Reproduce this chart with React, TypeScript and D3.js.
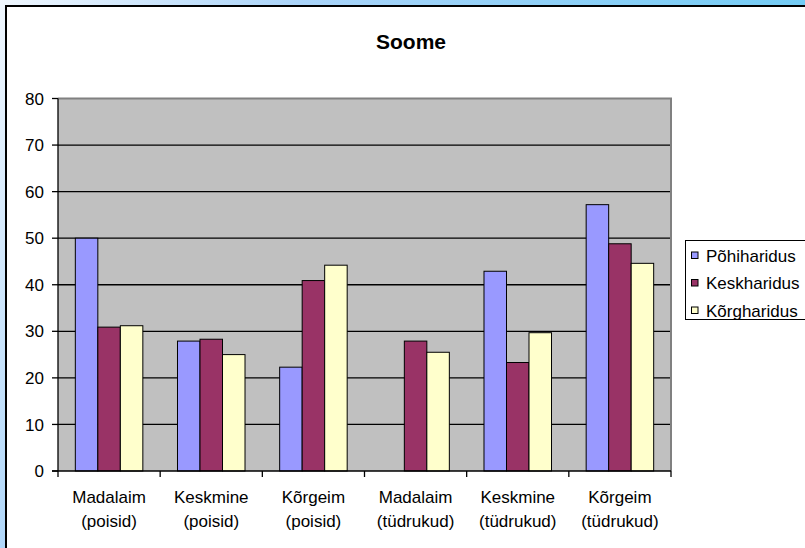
import * as d3 from 'd3';
import { useEffect } from 'react';

const categories = [
  ['Madalaim', '(poisid)'],
  ['Keskmine', '(poisid)'],
  ['Kõrgeim', '(poisid)'],
  ['Madalaim', '(tüdrukud)'],
  ['Keskmine', '(tüdrukud)'],
  ['Kõrgeim', '(tüdrukud)'],
];
const seriesNames = ['Põhiharidus', 'Keskharidus', 'Kõrgharidus'];
const pohiharidus = [50, 27.9, 22.3, 0, 42.9, 57.2];
const keskharidus = [30.9, 28.3, 40.9, 27.9, 23.3, 48.8];
const korgharidus = [31.2, 25.0, 44.2, 25.5, 29.7, 44.6];
const yTicks = [0, 10, 20, 30, 40, 50, 60, 70, 80];

const seriesValues = [pohiharidus, keskharidus, korgharidus];
const seriesColors = ['#9999FF', '#993366', '#FFFFCC'];

const W = 805;
const H = 548;
const FONT = '"Liberation Sans", Arial, sans-serif';
const plot = { left: 58, right: 671, top: 98.5, bottom: 471 };

export default function App() {
  useEffect(() => {
    document.body.style.margin = '0';
  }, []);

  const catKeys = categories.map((_, i) => String(i));
  const x0 = d3.scaleBand().domain(catKeys).range([plot.left, plot.right]);
  const x1 = d3
    .scaleBand()
    .domain(seriesNames)
    .range([0, x0.bandwidth()])
    .paddingInner(0)
    .paddingOuter(0.77);
  const y = d3.scaleLinear().domain([0, 80]).range([plot.bottom, plot.top]);

  return (
    <svg width={W} height={H} style={{ display: 'block' }} fontFamily={FONT}>
      <defs>
        <linearGradient id="bg" gradientUnits="userSpaceOnUse" x1={0} y1={0} x2={W} y2={400}>
          <stop offset="0" stopColor="#F0F7FE" />
          <stop offset="0.3" stopColor="#AAD4F9" />
          <stop offset="1" stopColor="#5FC9F3" />
        </linearGradient>
      </defs>
      <rect x={0} y={0} width={W} height={H} fill="url(#bg)" />
      <rect x={6} y={6} width={W + 20} height={H + 20} fill="#fff" stroke="#000" strokeWidth={2} />

      <text x={411} y={49} textAnchor="middle" fontWeight="bold" fontSize={21}>
        Soome
      </text>

      {/* plot area */}
      <rect
        x={plot.left}
        y={plot.top}
        width={plot.right - plot.left}
        height={plot.bottom - plot.top}
        fill="#C0C0C0"
      />
      {yTicks
        .filter((t) => t > 0 && t < 80)
        .map((t) => (
          <line key={t} x1={plot.left} x2={plot.right} y1={y(t)} y2={y(t)} stroke="#000" strokeWidth={1.3} />
        ))}
      <path
        d={`M${plot.left},${plot.top}H${plot.right}V${plot.bottom}`}
        fill="none"
        stroke="#808080"
        strokeWidth={2}
      />

      {/* bars */}
      {catKeys.map((k, ci) => (
        <g key={k} transform={`translate(${x0(k)},0)`}>
          {seriesNames.map((s, si) => {
            const v = seriesValues[si][ci];
            if (!v) return null;
            return (
              <rect
                key={s}
                x={x1(s)}
                y={y(v)}
                width={x1.bandwidth()}
                height={y(0) - y(v)}
                fill={seriesColors[si]}
                stroke="#000"
                strokeWidth={1}
              />
            );
          })}
        </g>
      ))}

      {/* axes */}
      <line x1={plot.left} x2={plot.left} y1={plot.top} y2={plot.bottom} stroke="#000" strokeWidth={1.3} />
      <line x1={plot.left - 6} x2={plot.right} y1={plot.bottom} y2={plot.bottom} stroke="#000" strokeWidth={1.3} />
      {yTicks.map((t) => (
        <g key={t}>
          <line x1={plot.left - 6} x2={plot.left} y1={y(t)} y2={y(t)} stroke="#000" strokeWidth={1.3} />
          <text x={44} y={y(t)} dy="0.36em" textAnchor="end" fontSize={17}>
            {t}
          </text>
        </g>
      ))}
      {[...catKeys.map((k) => x0(k) as number), plot.right].map((xv, i) => (
        <line key={i} x1={xv} x2={xv} y1={plot.bottom} y2={plot.bottom + 6} stroke="#000" strokeWidth={1.3} />
      ))}
      {categories.map((c, i) => {
        const cx = (x0(String(i)) as number) + x0.bandwidth() / 2;
        return (
          <text key={i} x={cx} textAnchor="middle" fontSize={17}>
            <tspan x={cx} y={503}>
              {c[0]}
            </tspan>
            <tspan x={cx} y={527}>
              {c[1]}
            </tspan>
          </text>
        );
      })}

      {/* legend */}
      <rect x={685.5} y={240.5} width={140} height={79} fill="#fff" stroke="#000" strokeWidth={1} />
      {seriesNames.map((s, i) => {
        const ry = 255.5 + i * 27.5;
        return (
          <g key={s}>
            <rect x={691.5} y={ry - 3.5} width={6.5} height={6.5} fill={seriesColors[i]} stroke="#000" strokeWidth={1} />
            <text x={706} y={ry} dy="0.36em" fontSize={17}>
              {s}
            </text>
          </g>
        );
      })}
    </svg>
  );
}
